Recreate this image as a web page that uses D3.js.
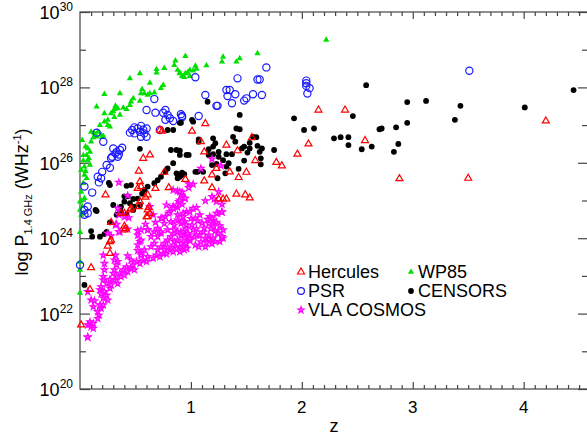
<!DOCTYPE html>
<html>
<head>
<meta charset="utf-8">
<script src="https://cdn.jsdelivr.net/npm/d3@7"></script>
<style>
  html, body { margin: 0; padding: 0; background: #fff; }
  svg text { font-family: Arial, "Liberation Sans", Helvetica, sans-serif; fill: #000; }
</style>
</head>
<body>
<svg id="chart" width="587" height="435"></svg>
<script>
// Radio luminosity vs redshift for several radio samples: [z, log10 P(1.4 GHz) / W Hz^-1]
const wp85 = [
  [0.95,28.83],[0.86,28.71],[0.85,28.59],[0.76,28.51],[0.69,28.48],[0.69,28.39],[0.88,28.46],[0.90,28.37],
  [0.93,28.30],[0.95,28.37],[0.54,28.37],[0.45,28.24],[0.63,28.12],[0.75,28.06],[0.73,27.98],[0.67,27.86],
  [0.56,27.95],[0.55,27.84],[0.58,27.84],[0.61,27.80],[0.63,27.84],[0.36,27.84],[0.22,27.82],[0.48,27.71],
  [0.46,27.62],[0.54,27.64],[0.45,27.53],[0.42,27.42],[0.39,27.46],[0.34,27.44],[0.31,27.42],[0.32,27.51],
  [0.15,27.49],[0.22,27.31],[0.28,27.31],[0.30,27.36],[0.36,27.27],[0.25,27.14],[0.31,27.21],[0.22,27.09],
  [0.25,27.00],[0.27,26.96],[0.18,27.00],[0.10,26.82],[0.16,26.82],[0.19,26.74],[0.13,26.78],[0.20,26.68],
  [0.10,26.56],[0.12,26.67],[0.15,26.69],[0.21,26.71],[0.07,26.38],[0.06,26.20],[0.09,26.29],[0.03,26.06],
  [0.07,26.06],[0.04,25.90],[0.09,25.94],[0.01,25.81],[0.04,25.68],[0.06,25.59],[0.03,25.46],[0.01,25.23],
  [0.04,25.06],[0.02,24.84],[0.01,24.62],[0.03,24.66],[0.00,24.75],[0.00,24.16],[0.00,23.37],[0.00,23.16],
  [0.00,22.55],[0.00,24.97],[0.01,25.00],[0.02,26.60],[0.05,26.43],[0.03,26.20],[0.08,26.12],[0.05,25.78],
  [1.29,28.81],[1.28,28.68],[1.44,28.77],[1.41,28.68],[1.60,28.90],[1.14,28.58],[1.04,28.57],[1.05,28.49],
  [0.99,28.46],[0.97,28.39],[1.02,28.44],[0.92,28.30],[0.94,28.27],[0.99,28.30],[0.90,28.39],[2.22,29.26]
];

const psr = [
  [0.67,27.69],[0.60,27.40],[0.68,27.33],[0.75,27.33],[0.77,27.40],[0.79,27.27],[0.81,27.18],[0.84,27.11],
  [0.77,27.14],[0.91,27.29],[0.92,27.21],[0.15,26.80],[0.45,26.80],[0.49,26.94],[0.52,26.91],[0.55,26.98],
  [0.60,26.91],[0.49,26.78],[0.54,26.82],[0.58,26.78],[0.60,26.69],[0.55,26.69],[0.72,26.87],[0.47,26.87],
  [0.57,26.88],[0.21,26.56],[0.30,26.38],[0.33,26.29],[0.36,26.34],[0.38,26.40],[0.34,26.16],[0.28,26.12],
  [0.24,25.94],[0.27,25.87],[0.20,25.76],[0.16,25.63],[0.19,25.59],[0.17,25.48],[0.04,25.37],[0.11,25.21],
  [0.07,24.84],[0.04,24.75],[0.07,24.66],[0.04,24.62],[0.00,23.29],[0.32,26.25],[0.35,26.22],[0.29,26.16],
  [1.68,28.53],[1.42,28.24],[1.60,28.21],[1.62,28.21],[1.04,28.27],[1.32,27.93],[1.35,27.93],[1.13,27.80],
  [1.33,27.77],[1.40,27.82],[1.56,27.82],[1.64,27.80],[1.50,27.71],[1.48,27.65],[1.37,27.58],[1.23,27.51],
  [1.24,27.51],[0.92,27.24],[1.07,27.24],
  [2.04,28.18],[2.04,28.11],[2.04,28.04],[2.07,27.98],[2.05,27.84],[3.51,28.44]
];

const censors = [
  [2.58,28.06],[1.93,27.18],[2.02,26.87],[2.11,26.91],[2.46,27.24],[2.29,26.65],[2.35,26.68],[2.42,26.68],
  [2.42,26.47],[2.54,26.36],[2.63,26.43],[2.70,26.89],[2.72,26.91],[2.85,26.94],[2.83,26.29],[2.87,26.50],
  [1.75,26.34],[1.15,27.62],[1.44,27.27],[1.01,27.14],[0.90,27.06],[1.41,26.91],[1.44,26.89],[1.38,26.69],
  [1.40,26.56],[1.56,26.69],[1.59,26.68],[1.60,26.45],[1.64,26.38],[1.62,26.29],[1.63,26.12],[1.63,25.96],
  [1.53,26.53],[1.53,26.38],[1.51,26.27],[1.48,26.43],[1.46,26.38],[1.48,26.06],[1.20,26.65],[1.22,26.52],
  [1.20,26.43],[1.16,26.36],[1.07,26.62],[0.96,26.21],[0.90,26.32],[1.16,26.21],[1.20,26.23],[1.25,26.29],
  [1.25,26.16],[1.32,26.23],[1.37,26.23],[1.29,26.07],[1.32,25.90],[1.34,25.99],[1.43,25.84],[1.31,25.72],
  [1.24,25.59],[1.19,25.94],[1.23,25.97],[1.04,25.76],[1.06,25.76],[1.11,25.76],[0.92,25.74],[0.94,25.70],
  [0.90,25.63],
  [4.45,27.93],[4.01,27.47],[3.43,27.51],[3.38,27.14],[3.12,27.64],[2.95,27.61],[2.95,27.06],
  [0.54,26.37],[0.82,26.34],[0.87,26.34],[0.90,26.21],[0.79,25.85],[0.77,25.76],[0.73,25.63],[0.70,25.54],
  [0.67,25.46],[0.88,25.70],[0.91,25.68],[0.88,25.59],[0.27,25.41],[0.42,25.39],[0.46,25.41],[0.61,25.37],
  [0.58,25.28],[0.40,25.11],[0.43,25.11],[0.48,25.04],[0.40,24.97],[0.45,24.93],[0.54,24.88],[0.30,24.88],
  [0.37,24.84],[0.48,24.75],[0.49,24.84],[0.15,24.72],[0.27,24.42],[0.37,24.69],[0.42,24.63],[0.33,24.62],
  [0.10,24.19],[0.11,24.04],[0.18,24.04],[0.22,24.11],[0.24,24.17],[0.04,22.76],[1.02,27.09],[0.84,26.87],
  [0.91,27.06],[0.79,26.87],[1.07,26.56],[0.98,26.21],[0.84,25.99],[0.87,25.72],[0.92,25.68],[0.14,24.75],
  [0.26,25.47],[0.52,25.05],[0.56,25.18],[0.36,24.75]
];

const hercules = [
  [2.15,27.40],[2.39,27.40],[2.06,26.50],[1.96,26.23],[2.57,26.59],[1.77,26.01],[1.82,25.92],[2.88,25.58],
  [4.20,27.11],[3.50,25.59],
  [1.01,26.84],[1.13,27.04],[1.09,26.56],[1.12,26.29],[1.32,26.47],[1.42,26.32],[1.55,26.67],[1.58,26.06],
  [1.23,25.85],[1.35,25.76],[1.50,25.75],[1.43,25.61],[1.19,25.68],[0.95,25.56],[1.12,25.52],[1.19,25.34],
  [1.41,25.17],[1.49,25.15],[1.53,25.07],[1.25,25.04],[1.29,25.04],[1.32,25.04],
  [0.57,26.12],[0.63,26.21],[0.53,25.78],[0.76,25.75],[0.80,25.34],[0.68,25.32],[0.54,25.50],[0.55,25.37],
  [0.52,25.32],[0.61,25.15],[0.59,25.09],[0.23,25.15],[0.54,24.97],[0.53,24.84],[0.46,24.79],[0.45,24.75],
  [0.37,24.66],[0.40,24.66],[0.61,24.75],[0.61,24.57],[0.28,24.42],
  [0.25,23.79],[0.27,23.60],[0.28,23.95],[0.40,24.22],[0.10,23.22],[0.09,22.64],[0.01,21.70],[0.40,24.32],
  [0.41,24.26],[0.27,23.91],[0.62,24.82],[0.63,24.66],[0.60,24.57],[0.74,26.84],[0.72,26.87]
];

const vlaCosmos = [
  [0.07,21.37],[0.07,21.70],[0.10,21.65],[0.12,21.61],[0.09,21.78],[0.12,21.74],[0.16,21.87],[0.17,21.96],
  [0.16,22.05],[0.19,22.14],[0.18,22.23],[0.21,22.23],[0.12,22.18],[0.10,22.36],[0.13,22.34],[0.21,22.41],
  [0.25,22.36],[0.24,22.49],[0.22,22.58],[0.18,22.63],[0.19,22.71],[0.27,22.67],[0.28,22.76],[0.24,22.80],
  [0.21,22.89],[0.27,22.91],[0.31,22.89],[0.34,22.80],[0.33,22.98],[0.30,23.07],[0.36,23.07],[0.39,23.16],
  [0.31,23.16],[0.22,23.16],[0.21,22.98],[0.37,22.98],[0.40,23.02],[0.43,23.11],[0.42,23.24],[0.46,23.20],
  [0.49,23.16],[0.48,23.29],[0.51,23.38],[0.54,23.33],[0.57,23.42],[0.60,23.38],[0.61,23.51],[0.66,23.47],
  [0.69,23.55],[0.72,23.51],[0.75,23.60],[0.78,23.58],[0.81,23.69],[0.84,23.64],[0.87,23.73],[0.90,23.77],
  [0.94,23.82],[0.96,23.86],[0.70,23.69],[0.73,23.77],[0.76,23.86],[0.79,23.95],[0.82,24.04],[0.85,24.13],
  [0.88,24.17],[0.91,24.08],[0.94,24.00],[0.67,23.86],[0.64,23.77],[0.58,23.69],[0.55,23.60],[0.70,24.04],
  [0.73,24.13],[0.64,24.04],[0.61,24.22],[0.67,24.17],[0.52,24.08],[0.54,23.91],[0.52,23.82],[0.55,23.55],
  [0.43,23.53],[0.46,23.42],[0.34,23.38],[0.33,23.29],[0.21,23.55],[0.22,23.33],[0.36,24.17],[0.28,24.06],
  [0.52,24.20],[0.85,23.91],[0.88,23.95],[0.91,23.86],[0.84,23.82],[0.79,23.77],[0.76,23.69],[0.94,23.69],
  [0.96,23.73],[0.07,21.38],[0.19,22.52],[0.07,22.58],[0.31,23.42],[0.32,23.55],[0.52,23.67],[0.55,23.95],
  [0.35,25.48],[0.43,25.13],[0.34,24.79],[0.40,24.57],[0.44,24.54],[0.32,24.35],[0.35,24.17],[0.25,24.13],
  [0.59,24.37],[0.63,24.84],[0.66,24.62],[0.68,24.42],[0.73,24.53],[0.77,24.57],[0.81,24.70],[0.84,24.84],
  [0.88,24.82],[0.92,24.90],[0.94,25.06],[0.91,25.15],[0.84,25.28],[0.88,25.25],[0.70,24.26],[0.76,24.39],
  [0.82,24.44],[0.85,24.35],[0.88,24.48],[0.91,24.39],[0.94,24.44],[0.88,24.62],[0.93,24.57],[0.96,24.70],
  [0.85,24.22],[0.91,24.17],[0.96,24.26],[0.79,24.22],[0.73,24.17],[0.55,24.22],[0.61,24.22],[0.43,24.24],
  [0.33,24.37],[0.35,24.62],[0.89,24.97],[1.02,24.79],[0.78,24.88],[0.92,25.22],[0.90,25.01],[0.87,24.88],
  [0.84,24.79],[0.80,24.66],[0.74,24.53],[0.98,25.44],
  [1.19,26.10],[1.27,25.92],[1.09,25.85],[1.02,25.43],[0.98,25.34],[0.90,25.23],[0.95,25.06],[1.25,25.23],
  [1.19,25.10],[1.13,24.99],[1.21,25.04],[1.23,24.97],[1.28,24.90],[1.05,24.81],[0.99,24.70],[0.93,24.66],
  [1.28,24.69],[1.24,24.66],[1.17,24.57],[1.20,24.48],[1.19,24.37],[1.23,24.42],[1.26,24.33],[1.29,24.22],
  [1.24,24.13],[1.20,24.00],[1.16,24.08],[1.11,24.17],[1.08,24.08],[1.13,24.00],[1.05,24.08],[1.01,24.35],
  [0.96,24.35],[1.02,24.22],[0.98,24.08],[0.93,24.17],[0.92,24.44],[1.04,24.53],[1.08,24.62],
  [1.29,24.00],[1.26,23.91],[1.22,23.91],[1.19,23.85],[1.16,23.97],[1.04,23.82],[0.99,23.94],[0.93,23.77],
  [0.90,23.64],[0.96,23.73],[1.07,23.77],[1.13,23.77],[1.23,24.66],[1.28,24.70],[1.19,24.53],[1.16,24.39],
  [1.20,24.30],[1.25,24.13],[1.28,24.04],[1.10,24.40],[1.12,24.27],[1.06,24.46],[1.00,24.52],[1.15,24.50],
  [0.99,23.99],[1.03,24.03],[1.09,23.90],[1.14,23.88],[0.97,24.12],[1.05,24.25],[1.22,24.20],[1.18,24.25]
];

const xTicks = [1, 2, 3, 4];
const yTicks = [20, 22, 24, 26, 28, 30];

const svg = d3.select("#chart");
const plotLeft = 80, plotRight = 588, plotTop = 12, plotBottom = 389;

const x = d3.scaleLinear().domain([0, 4.58]).range([plotLeft, plotRight]);
const y = d3.scaleLinear().domain([20, 30]).range([plotBottom, plotTop]);

const axisColor = "#444";

// frame
svg.append("rect")
  .attr("x", plotLeft).attr("y", plotTop)
  .attr("width", plotRight - plotLeft).attr("height", plotBottom - plotTop)
  .attr("fill", "none").attr("stroke", axisColor).attr("stroke-width", 1.2);

// inward ticks on all four sides
const xMinor = d3.range(1, 46).map(d => d / 10).filter(d => Math.abs(d - Math.round(d)) > 1e-6);
const yMinor = d3.range(21, 30, 2);

function drawAxis(ax, tx, ty) {
  const g = svg.append("g").attr("transform", `translate(${tx},${ty})`).call(ax);
  g.select(".domain").remove();
  g.selectAll(".tick line").attr("stroke", axisColor).attr("stroke-width", 1.2);
  return g;
}
drawAxis(d3.axisBottom(x).tickValues(xTicks).tickSize(-7).tickFormat(""), 0, plotBottom);
drawAxis(d3.axisBottom(x).tickValues(xMinor).tickSize(-4).tickFormat(""), 0, plotBottom);
drawAxis(d3.axisTop(x).tickValues(xTicks).tickSize(-7).tickFormat(""), 0, plotTop);
drawAxis(d3.axisTop(x).tickValues(xMinor).tickSize(-4).tickFormat(""), 0, plotTop);
drawAxis(d3.axisLeft(y).tickValues(yTicks).tickSize(-10).tickFormat(""), plotLeft, 0);
drawAxis(d3.axisLeft(y).tickValues(yMinor).tickSize(-6).tickFormat(""), plotLeft, 0);
drawAxis(d3.axisRight(y).tickValues(yTicks).tickSize(-10).tickFormat(""), plotRight, 0);
drawAxis(d3.axisRight(y).tickValues(yMinor).tickSize(-6).tickFormat(""), plotRight, 0);

// x tick labels
svg.append("g").selectAll("text").data(xTicks).join("text")
  .attr("x", d => x(d)).attr("y", 413)
  .attr("text-anchor", "middle").attr("font-size", 17)
  .text(d => d);

// y tick labels as powers of ten
const yl = svg.append("g").selectAll("text").data(yTicks).join("text")
  .attr("x", 73).attr("y", d => y(d) + 7)
  .attr("text-anchor", "end").attr("font-size", 18);
yl.append("tspan").text("10");
yl.append("tspan").attr("font-size", 12).attr("dy", -8).text(d => d);

// axis titles
svg.append("text").attr("x", 334).attr("y", 432)
  .attr("text-anchor", "middle").attr("font-size", 18).text("z");

const yt = svg.append("text")
  .attr("transform", "translate(28,202) rotate(-90)")
  .attr("text-anchor", "middle").attr("font-size", 18);
yt.append("tspan").text("log P");
yt.append("tspan").attr("font-size", 11).attr("dy", 4).text("1.4 GHz");
yt.append("tspan").attr("dy", -4).text(" (WHz");
yt.append("tspan").attr("font-size", 11).attr("dy", -7).text("-1");
yt.append("tspan").attr("dy", 7).text(")");

// marker styles
const triSmall = d3.symbol().type(d3.symbolTriangle).size(17);
const triOpen = d3.symbol().type(d3.symbolTriangle).size(21);
const star = d3.symbol().type(d3.symbolStar).size(12);

const plot = svg.append("g");

plot.append("g").selectAll("path").data(wp85).join("path")
  .attr("d", triSmall)
  .attr("transform", d => `translate(${x(d[0])},${y(d[1])})`)
  .attr("fill", "#00e000");

plot.append("g").selectAll("circle").data(psr).join("circle")
  .attr("cx", d => x(d[0])).attr("cy", d => y(d[1])).attr("r", 3.6)
  .attr("fill", "none").attr("stroke", "#1a1aff").attr("stroke-width", 1.2);

plot.append("g").selectAll("circle").data(censors).join("circle")
  .attr("cx", d => x(d[0])).attr("cy", d => y(d[1])).attr("r", 2.9)
  .attr("fill", "#000");

plot.append("g").selectAll("path").data(vlaCosmos).join("path")
  .attr("d", star)
  .attr("transform", d => `translate(${x(d[0])},${y(d[1])})`)
  .attr("fill", "#ff80ff").attr("stroke", "#ff00ff").attr("stroke-width", 1.2);

plot.append("g").selectAll("path").data(hercules).join("path")
  .attr("d", triOpen)
  .attr("transform", d => `translate(${x(d[0])},${y(d[1])})`)
  .attr("fill", "none").attr("stroke", "#ff0000").attr("stroke-width", 1.2);

// legend
const legend = svg.append("g");
const legendItems = [
  { label: "Hercules", col: 0, row: 0, kind: "herc" },
  { label: "PSR", col: 0, row: 1, kind: "psr" },
  { label: "VLA COSMOS", col: 0, row: 2, kind: "vla" },
  { label: "WP85", col: 1, row: 0, kind: "wp" },
  { label: "CENSORS", col: 1, row: 1, kind: "cen" }
];
const colX = [301, 411];
const rowY = [272, 291, 310];
legendItems.forEach(it => {
  const mx = colX[it.col], my = rowY[it.row];
  if (it.kind === "herc") {
    legend.append("path").attr("d", triOpen).attr("transform", `translate(${mx},${my})`)
      .attr("fill", "none").attr("stroke", "#ff0000").attr("stroke-width", 1.2);
  } else if (it.kind === "psr") {
    legend.append("circle").attr("cx", mx).attr("cy", my).attr("r", 3.4)
      .attr("fill", "none").attr("stroke", "#1a1aff").attr("stroke-width", 1.2);
  } else if (it.kind === "vla") {
    legend.append("path").attr("d", star).attr("transform", `translate(${mx},${my})`)
      .attr("fill", "#ff80ff").attr("stroke", "#ff00ff").attr("stroke-width", 1.2);
  } else if (it.kind === "wp") {
    legend.append("path").attr("d", triSmall).attr("transform", `translate(${mx},${my})`)
      .attr("fill", "#00e000");
  } else {
    legend.append("circle").attr("cx", mx).attr("cy", my).attr("r", 2.9).attr("fill", "#000");
  }
  legend.append("text").attr("x", mx + 7).attr("y", my + 6)
    .attr("font-size", 18).text(it.label);
});
</script>
</body>
</html>
